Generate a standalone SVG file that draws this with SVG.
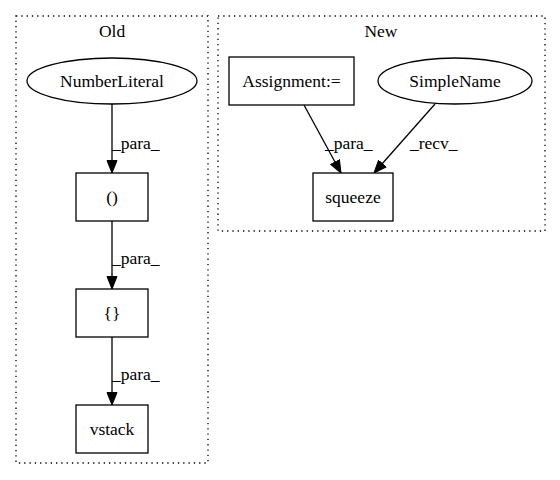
<svg xmlns="http://www.w3.org/2000/svg" width="560" height="480" viewBox="0 0 560 480">
<style>
text{font-family:"Liberation Serif","Times New Roman",serif;font-size:17.5px;fill:#000}
.c{text-anchor:middle}
.cl{fill:none;stroke:#000;stroke-width:1.3;stroke-dasharray:1.3,4}
.n{fill:#fff;stroke:#000;stroke-width:1.3}
.e{fill:none;stroke:#000;stroke-width:1.3}
</style>
<defs>
<marker id="ah" markerUnits="userSpaceOnUse" markerWidth="14" markerHeight="12" refX="13" refY="6" orient="auto">
<path d="M0.5,1 L13,6 L0.5,11 z" fill="#000" stroke="#000" stroke-width="1"/>
</marker>
</defs>
<rect width="560" height="480" fill="#fff"/>
<g id="cluster_old">
<rect class="cl" x="16" y="16" width="192" height="447"/>
<text class="c" x="112" y="37">Old</text>
</g>
<g id="cluster_new">
<rect class="cl" x="218" y="16" width="327" height="215"/>
<text class="c" x="381" y="37">New</text>
</g>
<g id="connectors">
<line class="e" x1="112" y1="104" x2="112" y2="173" marker-end="url(#ah)"/>
<text x="112" y="149">_para_</text>
<line class="e" x1="112" y1="221" x2="112" y2="289" marker-end="url(#ah)"/>
<text x="112" y="264">_para_</text>
<line class="e" x1="112" y1="337" x2="112" y2="405" marker-end="url(#ah)"/>
<text x="112" y="380">_para_</text>
<line class="e" x1="304" y1="105" x2="341" y2="173" marker-end="url(#ah)"/>
<text x="325" y="149">_para_</text>
<line class="e" x1="435" y1="104" x2="374" y2="173" marker-end="url(#ah)"/>
<text x="410" y="149">_recv_</text>
</g>
<g id="NumberLiteral">
<ellipse class="n" cx="112" cy="81" rx="85" ry="23"/>
<text class="c" x="112" y="87">NumberLiteral</text>
</g>
<g id="paren">
<rect class="n" x="76" y="173" width="72" height="48"/>
<text class="c" x="112" y="203">()</text>
</g>
<g id="brace">
<rect class="n" x="76" y="289" width="72" height="48"/>
<text class="c" x="112" y="319">{}</text>
</g>
<g id="vstack">
<rect class="n" x="76" y="405" width="72" height="48"/>
<text class="c" x="112" y="435">vstack</text>
</g>
<g id="Assignment">
<rect class="n" x="229" y="57" width="125" height="48"/>
<text class="c" x="291.5" y="87">Assignment:=</text>
</g>
<g id="SimpleName">
<ellipse class="n" cx="455" cy="81" rx="77" ry="23"/>
<text class="c" x="455" y="87">SimpleName</text>
</g>
<g id="squeeze">
<rect class="n" x="313" y="173" width="80" height="48"/>
<text class="c" x="353" y="203">squeeze</text>
</g>
</svg>
